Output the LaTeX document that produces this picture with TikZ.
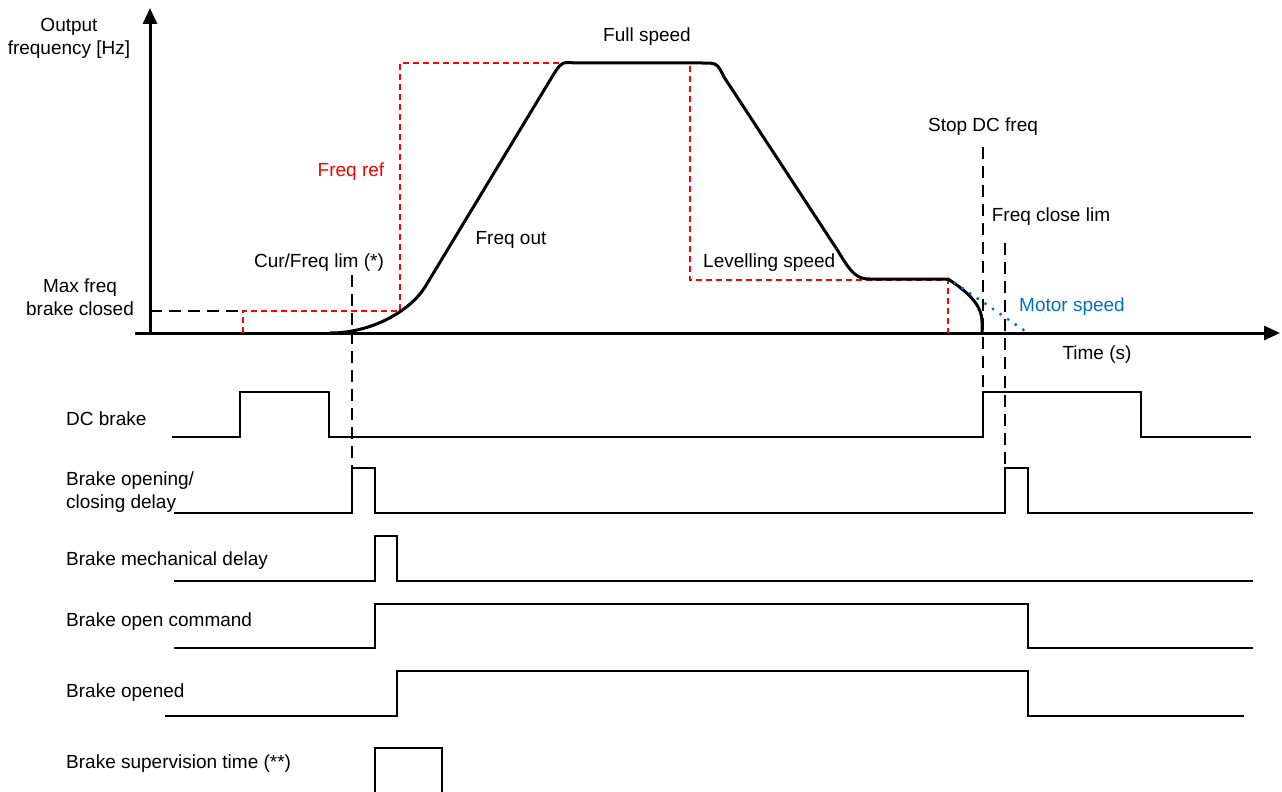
\documentclass[tikz,border=0pt]{standalone}
\usepackage{fontspec}
\setmainfont{Liberation Sans}
\usetikzlibrary{positioning}
\usetikzlibrary{arrows.meta}
\definecolor{refred}{RGB}{255,0,0}
\definecolor{motorblue}{RGB}{0,112,192}

\begin{document}
\begin{tikzpicture}[x=1pt, y=-1pt,
    txt/.style={font=\fontsize{19}{23}\selectfont, inner sep=0pt},
    axis/.style={line width=3pt, -{Triangle[length=16pt, width=14pt]}},
    freqout/.style={line width=3pt, line join=round},
    freqref/.style={refred, line width=1.2pt, dash pattern=on 6pt off 4pt},
    marker/.style={line width=1.6pt, dash pattern=on 12pt off 7pt},
    motor/.style={motorblue, line width=3.4pt, line cap=round, dash pattern=on 0pt off 9.2pt},
    sig/.style={line width=1.6pt}]
    \useasboundingbox (0,0) rectangle (1282,792);

    \coordinate (origin) at (150,333);
    \coordinate (ytop) at (150,8);
    \coordinate (xleft) at (135,333);
    \coordinate (xright) at (1280,333);
    \coordinate (curlim) at (352,275);
    \coordinate (curlimend) at (352,468);
    \coordinate (stopdc) at (983,147);
    \coordinate (stopdcend) at (983,392);
    \coordinate (closelim) at (1005,243);
    \coordinate (closelimend) at (1005,468);
    \coordinate (motorstart) at (955,283);
    \coordinate (motorend) at (1028,333);

    % axes
    \draw[axis] (origin) -- (ytop);
    \draw[axis] (xleft) -- (xright);

    % reference and output frequency
    \draw[marker] (origin |- 0,311) -- (243,311);
    \draw[freqref] (243,333) -- (243,311) -- (400,311) -- (400,63) -- (690,63)
        -- (690,280) -- (948,280) -- (948,333);
    \draw[freqout] (330,333) .. controls (372,333) and (410,311) .. (425,287)
        -- (555,72) .. controls (562,62) .. (576,63) -- (702,63)
        .. controls (717,63) .. (724,77) -- (838,251)
        .. controls (852,275) and (858,279) .. (870,279) -- (948,279)
        .. controls (968,292) and (982,305) .. (982,322) -- (982,333);
    \draw[motor] (motorstart) -- (motorend);

    \draw[marker] (curlim) -- (curlimend);
    \draw[marker] (stopdc) -- (stopdcend);
    \draw[marker] (closelim) -- (closelimend);

    \node[txt, align=center] (outfreq) at (69,38) {Output\\frequency [Hz]};
    \node[txt, align=center] (maxfreq) at (80,297) {Max freq\\brake closed};
    \node[txt, text=refred] (freqreflbl) at (351,172) {Freq ref};
    \node[txt] (curlimlbl) at (319,263) {Cur/Freq lim (*)};
    \node[txt] (fullspeed) at (647,37) {Full speed};
    \node[txt] (freqoutlbl) at (511,240) {Freq out};
    \node[txt, anchor=west] (levelling) at (703,263) {Levelling speed};
    \node[txt] (stopdclbl) at (983,127) {Stop DC freq};
    \node[txt] (closelimlbl) at (1051,217) {Freq close lim};
    \node[txt, text=motorblue] (motorlbl) at (1072,307) {Motor speed};
    \node[txt] (timelbl) at (1097,355) {Time (s)};

    % timing signals
    \node[txt, anchor=west] (dcbrake) at (66,419) {DC brake};
    \node[txt, anchor=west, align=left] (opendelay) at (66,492) {Brake opening/\\closing delay};
    \node[txt, anchor=west] (mechdelay) at (66,561) {Brake mechanical delay};
    \node[txt, anchor=west] (opencmd) at (66,622) {Brake open command};
    \node[txt, anchor=west] (opened) at (66,693) {Brake opened};
    \node[txt, anchor=west] (supervision) at (66,764) {Brake supervision time (**)};

    \draw[sig] (172,437) -- (240,437) -- (240,392) -- (329,392) -- (329,437) -- (983,437)
        -- (983,392) -- (1141,392) -- (1141,437) -- (1251,437);
    \draw[sig] (174,513) -- (352,513) -- (352,468) -- (375,468) -- (375,513) -- (1005,513)
        -- (1005,468) -- (1028,468) -- (1028,513) -- (1253,513);
    \draw[sig] (174,581) -- (375,581) -- (375,536) -- (397,536) -- (397,581) -- (1253,581);
    \draw[sig] (174,648) -- (375,648) -- (375,604) -- (1028,604) -- (1028,648) -- (1253,648);
    \draw[sig] (165,716) -- (397,716) -- (397,671) -- (1028,671) -- (1028,716) -- (1244,716);
    \draw[sig] (375,792) -- (375,748) -- (442,748) -- (442,792);
\end{tikzpicture}
\end{document}
